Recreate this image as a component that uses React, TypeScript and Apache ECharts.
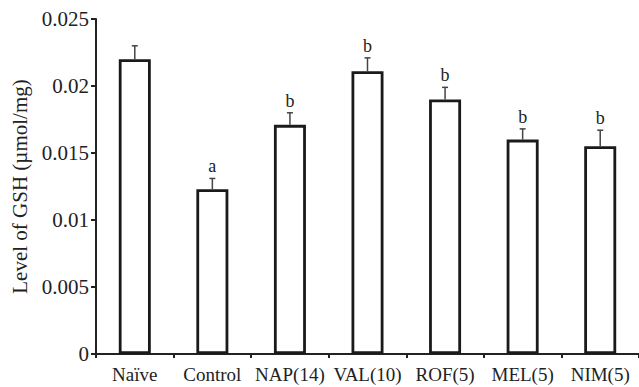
import React, { useEffect, useRef } from "react";
import * as echarts from "echarts";

const categories = ["Naïve", "Control", "NAP(14)", "VAL(10)", "ROF(5)", "MEL(5)", "NIM(5)"];
const means = [0.022, 0.0123, 0.0171, 0.0211, 0.019, 0.016, 0.0155];
const errorTops = [0.023, 0.0131, 0.018, 0.0221, 0.0199, 0.0168, 0.0167];
const sigLetters = ["", "a", "b", "b", "b", "b", "b"];
const yTicks = [0, 0.005, 0.01, 0.015, 0.02, 0.025];

const FONT = "'Liberation Serif', 'Times New Roman', serif";

export default function App() {
  const ref = useRef<HTMLDivElement>(null);
  useEffect(() => {
    if (!ref.current) return;
    const chart = echarts.init(ref.current, undefined, { renderer: "svg" });
    const errData = categories.map((c, i) => [i, means[i], errorTops[i], sigLetters[i]]);
    chart.setOption({
      animation: false,
      backgroundColor: "#ffffff",
      grid: { left: 96, right: 0, top: 19, bottom: 33, containLabel: false },
      xAxis: {
        type: "category",
        data: categories,
        boundaryGap: true,
        axisLine: { lineStyle: { color: "#222", width: 2 } },
        axisTick: { show: true, length: 4, lineStyle: { color: "#222", width: 2 } },
        axisLabel: { color: "#222", fontFamily: FONT, fontSize: 19, margin: 11, interval: 0 },
      },
      yAxis: {
        type: "value",
        min: 0,
        max: 0.025,
        interval: 0.005,
        name: "Level of GSH (µmol/mg)",
        nameLocation: "middle",
        nameGap: 64,
        nameTextStyle: { color: "#222", fontFamily: FONT, fontSize: 21 },
        splitLine: { show: false },
        axisLine: { show: true, lineStyle: { color: "#222", width: 2 } },
        axisTick: { show: true, length: 5, lineStyle: { color: "#222", width: 2 } },
        axisLabel: {
          color: "#222",
          fontFamily: FONT,
          fontSize: 21,
          margin: 7,
          formatter: (v: number) => {
            const idx = yTicks.findIndex((t) => Math.abs(t - v) < 1e-9);
            return idx >= 0 ? String(yTicks[idx]) : "";
          },
        },
      },
      series: [
        {
          type: "bar",
          data: means,
          barWidth: 32,
          itemStyle: { color: "#ffffff", borderColor: "#1a1a1a", borderWidth: 2.8 },
        },
        {
          type: "custom",
          data: errData,
          z: 10,
          renderItem: (params: any, api: any) => {
            const x = api.value(0);
            const base = api.coord([x, api.value(1)]);
            const top = api.coord([x, api.value(2)]);
            const letter = sigLetters[params.dataIndex];
            const children: any[] = [
              {
                type: "line",
                shape: { x1: base[0], y1: base[1], x2: top[0], y2: top[1] },
                style: { stroke: "#444", lineWidth: 1.5 },
              },
              {
                type: "line",
                shape: { x1: top[0] - 3, y1: top[1], x2: top[0] + 3, y2: top[1] },
                style: { stroke: "#444", lineWidth: 1.5 },
              },
            ];
            if (letter) {
              children.push({
                type: "text",
                x: top[0],
                y: top[1] - 3,
                style: {
                  text: letter,
                  fill: "#222",
                  font: `18px ${FONT}`,
                  align: "center",
                  verticalAlign: "bottom",
                },
              });
            }
            return { type: "group", children };
          },
        },
      ],
    });
    return () => chart.dispose();
  }, []);
  return <div ref={ref} style={{ width: 639, height: 387, position: "absolute", left: 0, top: 0 }} />;
}
